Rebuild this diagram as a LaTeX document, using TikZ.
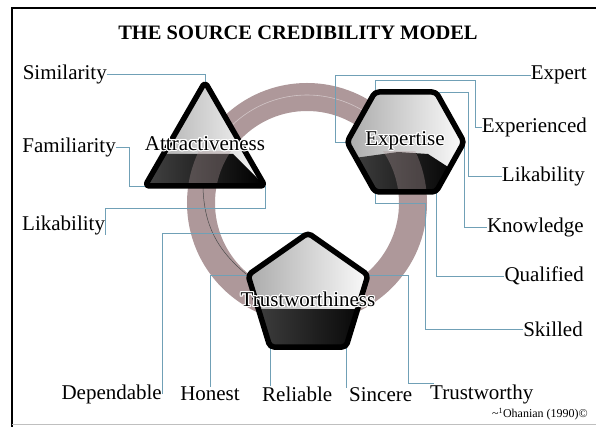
\documentclass[tikz,border=0pt]{standalone}
\usepackage{fontspec}
\setmainfont{Liberation Serif}
\usepackage{contour}
\contourlength{1.1pt}
\definecolor{ringc}{RGB}{174,152,154}
\definecolor{wirec}{RGB}{112,160,182}

\begin{document}
\begin{tikzpicture}[x=1pt,y=1pt]
\tikzstyle{every node}+=[inner sep=0pt]
\tikzstyle{lbl}=[font=\fontsize{21}{25}\selectfont]
\tikzstyle{wire}=[draw=wirec, line width=0.9pt]
\tikzstyle{rim}=[draw=black, line width=5.5pt, rounded corners=4pt, line join=round]
\useasboundingbox (0,0) rectangle (596,-427);
\fill [white] (0,0) rectangle (596,-427);
\draw [black, line width=2.6pt] (12,-430) -- (12,-8) -- (600,-8);
\draw [black!25, line width=0.6pt] (12,-424) -- (596,-424);
\node (title) at (298,-33) {\fontsize{20.5}{24}\selectfont\bfseries THE SOURCE CREDIBILITY MODEL};
\coordinate (att-t) at (205,-82);
\coordinate (att-l) at (145,-186);
\coordinate (att-r) at (265,-186);
\coordinate (exp-l) at (347,-142);
\coordinate (exp-tl) at (375,-92);
\coordinate (exp-tr) at (436,-92);
\coordinate (exp-r) at (464,-142);
\coordinate (exp-br) at (436,-192);
\coordinate (exp-bl) at (375,-192);
\coordinate (tru-t) at (308,-233);
\coordinate (tru-l) at (248,-275);
\coordinate (tru-r) at (368,-275);
\coordinate (tru-bl) at (270,-347);
\coordinate (tru-br) at (346,-347);
\coordinate (ring) at (307,-203);
\draw [ringc, line width=28pt] (ring) circle (106);
\draw [white, opacity=0.45, line width=0.6pt] (ring) ++(140:108) arc (140:55:108);
\draw [black!70, line width=0.5pt] (203,-188) to[out=-88,in=140] (246,-274);
\node (sim) [lbl, anchor=east] at (107,-74) {Similarity};
\node (fam) [lbl, anchor=east] at (116,-147) {Familiarity};
\node (likl) [lbl, anchor=west] at (22,-225) {Likability};
\node (expt) [lbl, anchor=east] at (587,-75) {Expert};
\node (expd) [lbl, anchor=east] at (587,-127) {Experienced};
\node (likr) [lbl, anchor=east] at (585,-176) {Likability};
\node (know) [lbl, anchor=east] at (584,-227) {Knowledge};
\node (qual) [lbl, anchor=east] at (584,-276) {Qualified};
\node (skil) [lbl, anchor=east] at (583,-329) {Skilled};
\node (dep) [lbl, anchor=east] at (162,-394) {Dependable};
\node (hon) [lbl] at (210,-394) {Honest};
\node (rel) [lbl, anchor=west] at (262,-394) {Reliable};
\node (sin) [lbl, anchor=west] at (349,-395) {Sincere};
\node (trw) [lbl, anchor=west] at (430,-394) {Trustworthy};
\draw [wire] (sim.east) -| (att-t);
\draw [wire] (fam.east) -- ++(13,0) |- (att-l);
\draw [wire] (likl.south east) |- (att-r |- 0,-208) -- (att-r);
\draw [wire] (expt.west) -| (335,-142) -- (exp-l);
\draw [wire] (exp-tl) |- (475,-80) |- (expd.west);
\draw [wire] (exp-tr) -- (468,-92) |- (likr.west);
\draw [wire] (exp-r) |- (know.west);
\draw [wire] (exp-br) |- (qual.west);
\draw [wire] (exp-bl) |- (425,-203) |- (skil.west);
\draw [wire] (tru-t) -| (dep.east);
\draw [wire] (tru-l) -| (hon.north);
\draw [wire] (tru-bl) -- (tru-bl |- rel.north);
\draw [wire] (tru-br) -- (tru-br |- sin.north);
\draw [wire] (tru-r) -| (408,-383) -| ([xshift=3pt]trw.north west);
\begin{scope}
\clip [rounded corners=4pt] (att-t) -- (att-r) -- (att-l) -- cycle;
\shade [left color=gray!70, right color=white] (140,-78) rectangle (270,-190);
\shade [left color=gray!55!black, right color=black] (140,-154) -- (233,-154) -- (262,-183) -- (262,-190) -- (140,-190) -- cycle;
\clip (140,-152) rectangle (270,-190);
\draw [ringc, opacity=0.35, line width=28pt] (ring) circle (106);
\end{scope}
\draw [rim] (att-t) -- (att-r) -- (att-l) -- cycle;
\begin{scope}
\clip [rounded corners=4pt] (exp-l) -- (exp-tl) -- (exp-tr) -- (exp-r) -- (exp-br) -- (exp-bl) -- cycle;
\shade [left color=gray!70, right color=white] (340,-88) rectangle (470,-196);
\shade [left color=gray!55!black, right color=black] (340,-160) -- (398,-152) -- (428,-154) -- (462,-176) -- (462,-200) -- (340,-200) -- cycle;
\clip (340,-152) rectangle (470,-200);
\draw [ringc, opacity=0.35, line width=28pt] (ring) circle (106);
\end{scope}
\draw [rim] (exp-l) -- (exp-tl) -- (exp-tr) -- (exp-r) -- (exp-br) -- (exp-bl) -- cycle;
\begin{scope}
\clip [rounded corners=4pt] (tru-t) -- (tru-r) -- (tru-br) -- (tru-bl) -- (tru-l) -- cycle;
\shade [left color=gray!70, right color=white] (240,-228) rectangle (376,-352);
\shade [left color=gray!55!black, right color=black] (240,-309) rectangle (376,-352);
\end{scope}
\draw [rim] (tru-t) -- (tru-r) -- (tru-br) -- (tru-bl) -- (tru-l) -- cycle;
\node (att) [lbl] at (205,-144) {\contour{white}{Attractiveness}};
\node (exp) [lbl] at (405,-141) {\contour{white}{Expertise}};
\node (tru) [lbl] at (308,-300) {\contour{white}{Trustworthiness}};
\node (cite) [anchor=east] at (588,-414) {\fontsize{12}{14}\selectfont\textasciitilde\textsuperscript{1}Ohanian (1990)\textcopyright};
\end{tikzpicture}
\end{document}
